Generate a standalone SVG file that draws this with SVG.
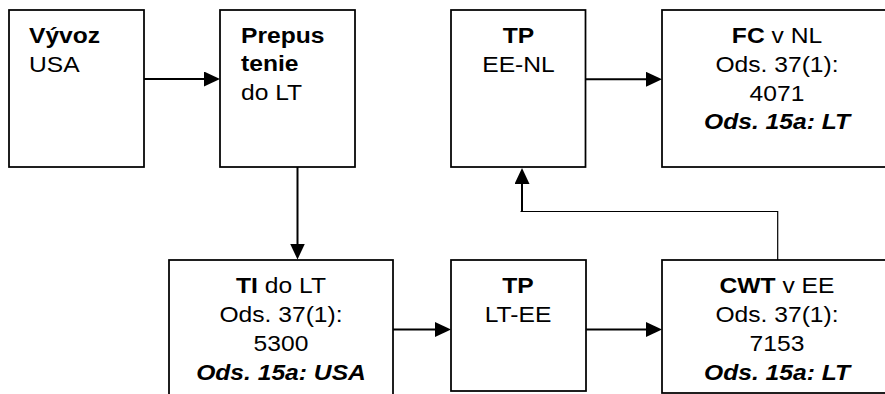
<svg xmlns="http://www.w3.org/2000/svg" width="885" height="394" viewBox="0 0 885 394">
<style>
.box{fill:#fff;stroke:#000;stroke-width:1.75}
text{font-family:"Liberation Sans",Arial,sans-serif;font-size:22px;fill:#000}
.c{text-anchor:middle}
.b{font-weight:bold}
.bi{font-weight:bold;font-style:italic}
.ar{stroke:#000;stroke-width:2;fill:none}
.th{stroke:#000;stroke-width:1.2;fill:none}
</style>
<defs>
<marker id="ah" markerUnits="userSpaceOnUse" markerWidth="16" markerHeight="15" refX="6" refY="7.5" orient="auto">
<path d="M0,0 L16,7.5 L0,15 z" fill="#000"/>
</marker>
</defs>
<rect width="885" height="394" fill="#fff"/>
<g id="connectors">
<line class="ar" x1="144" y1="79" x2="210" y2="79" marker-end="url(#ah)"/>
<line class="ar" x1="297.5" y1="167" x2="297.5" y2="249.5" marker-end="url(#ah)"/>
<line class="ar" x1="585" y1="79.3" x2="652" y2="79.3" marker-end="url(#ah)"/>
<line class="ar" x1="393" y1="329.5" x2="441" y2="329.5" marker-end="url(#ah)"/>
<line class="ar" x1="586" y1="329.5" x2="652" y2="329.5" marker-end="url(#ah)"/>
<path class="th" d="M777.7,260 V211.5 H520.5"/>
<line class="ar" x1="522" y1="212" x2="522" y2="178" marker-end="url(#ah)"/>
</g>
<g id="n1">
<rect class="box" x="9" y="10" width="135" height="157"/>
<g transform="translate(29,0) scale(1.12,1)">
<text x="0" y="43" class="b">Vývoz</text>
<text x="0" y="72">USA</text>
</g>
</g>
<g id="n2">
<rect class="box" x="220" y="10" width="135" height="157"/>
<g transform="translate(241,0) scale(1.12,1)">
<text x="0" y="43" class="b">Prepus</text>
<text x="0" y="71.5" class="b">tenie</text>
<text x="0" y="100.5">do LT</text>
</g>
</g>
<g id="n3">
<rect class="box" x="451" y="10" width="134.5" height="157"/>
<g transform="translate(518.5,0) scale(1.12,1)">
<text x="0" y="43" class="c b">TP</text>
<text x="0" y="72" class="c">EE-NL</text>
</g>
</g>
<g id="n4">
<rect class="box" x="662" y="10" width="230" height="157"/>
<g transform="translate(777,0) scale(1.12,1)">
<text x="0" y="43" class="c"><tspan class="b">FC</tspan> v NL</text>
<text x="0" y="71.8" class="c">Ods. 37(1):</text>
<text x="0" y="100.6" class="c">4071</text>
<text x="0" y="129.4" class="c bi">Ods. 15a: LT</text>
</g>
</g>
<g id="n5">
<rect class="box" x="169" y="260" width="224" height="150"/>
<g transform="translate(281,0) scale(1.12,1)">
<text x="0" y="293" class="c"><tspan class="b">TI</tspan> do LT</text>
<text x="0" y="322" class="c">Ods. 37(1):</text>
<text x="0" y="351" class="c">5300</text>
<text x="0" y="380" class="c bi">Ods. 15a: USA</text>
</g>
</g>
<g id="n6">
<rect class="box" x="451" y="260" width="135" height="131"/>
<g transform="translate(518,0) scale(1.12,1)">
<text x="0" y="293.5" class="c b">TP</text>
<text x="0" y="322.5" class="c">LT-EE</text>
</g>
</g>
<g id="n7">
<rect class="box" x="662" y="260" width="230" height="133"/>
<g transform="translate(777,0) scale(1.12,1)">
<text x="0" y="293.5" class="c"><tspan class="b">CWT</tspan> v EE</text>
<text x="0" y="322.5" class="c">Ods. 37(1):</text>
<text x="0" y="351.5" class="c">7153</text>
<text x="0" y="380" class="c bi">Ods. 15a: LT</text>
</g>
</g>
</svg>
